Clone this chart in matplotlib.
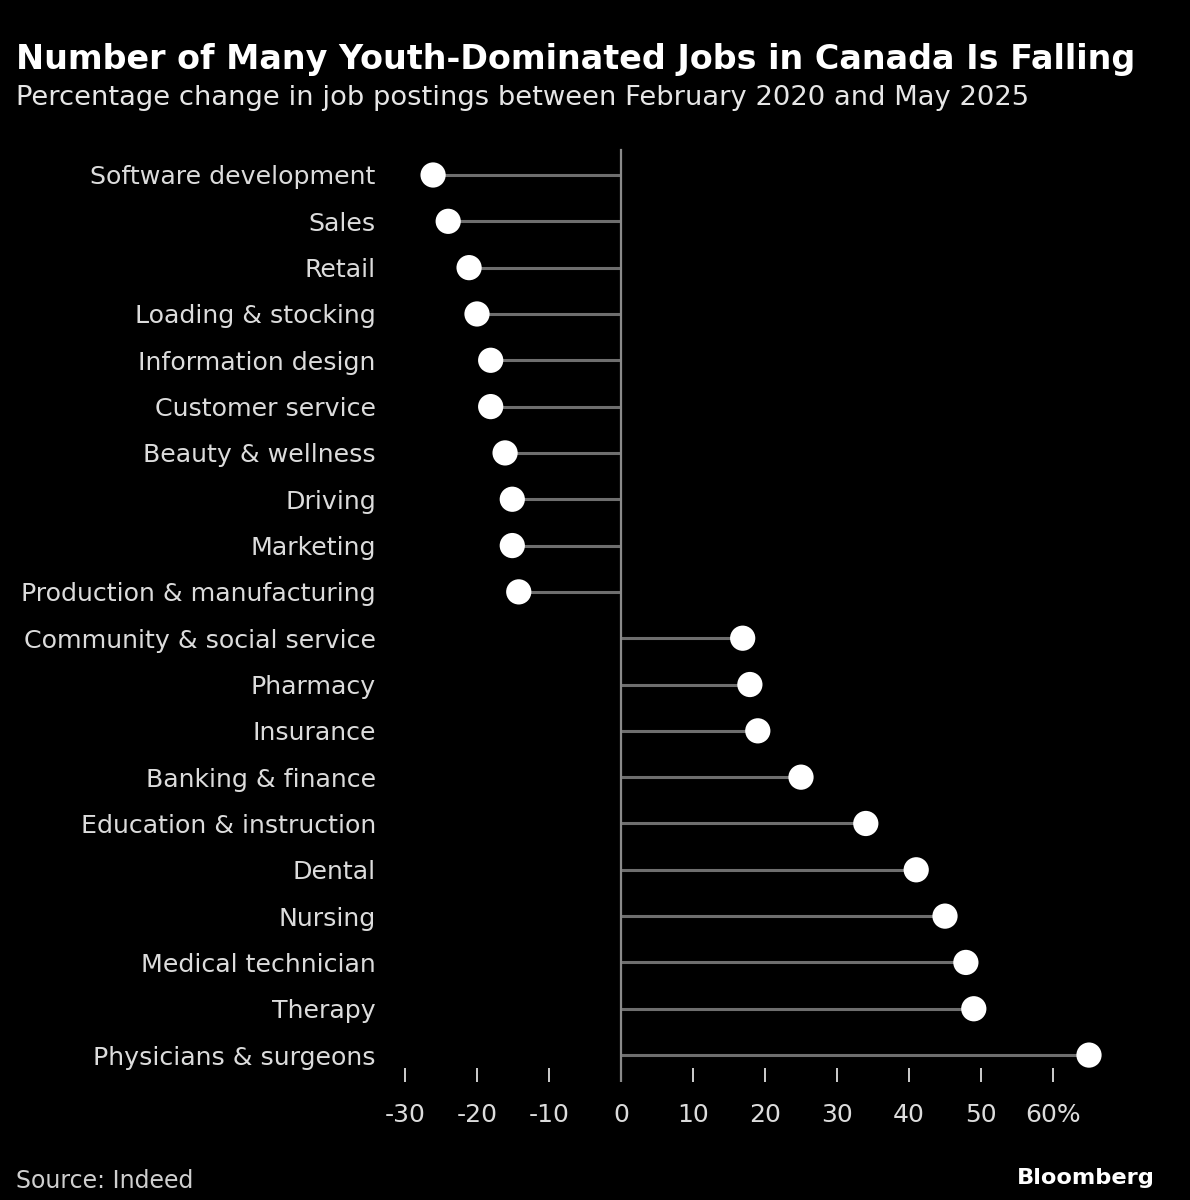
import matplotlib
matplotlib.use("Agg")
import matplotlib.pyplot as plt

# data
jobs = ["Software development", "Sales", "Retail", "Loading & stocking",
        "Information design", "Customer service", "Beauty & wellness",
        "Driving", "Marketing", "Production & manufacturing",
        "Community & social service", "Pharmacy", "Insurance",
        "Banking & finance", "Education & instruction", "Dental",
        "Nursing", "Medical technician", "Therapy", "Physicians & surgeons"]
change = [-26.1, -24.0, -21.1, -20.0, -18.1, -18.1, -16.1, -15.1, -15.1, -14.2,
          16.9, 17.9, 19.0, 25.0, 34.0, 41.0, 45.0, 47.9, 49.0, 65.0]
xticks = [-30, -20, -10, 0, 10, 20, 30, 40, 50, 60]
xlabels = ["-30", "-20", "-10", "0", "10", "20", "30", "40", "50", "60%"]

W, H = 1190, 1200
plt.rcParams['font.family'] = ['DejaVu Sans']
fig = plt.figure(figsize=(W / 100, H / 100), dpi=100)
fig.patch.set_facecolor("black")

# axes placed in pixel terms
left, right, top, bottom = 380, 1110, 140, 1082
ax = fig.add_axes([left / W, 1 - bottom / H, (right - left) / W, (bottom - top) / H])
ax.set_facecolor("black")

px_per_unit = 7.2
zero_px = 621
ax.set_xlim((left - zero_px) / px_per_unit, (right - zero_px) / px_per_unit)
row0, step = 175, 46.32
ax.set_ylim((bottom - row0) / step, (top - row0) / step)

rows = list(range(len(jobs)))
ax.hlines(rows, 0, change, color="#6e6e6e", lw=2.2, zorder=1)
ax.scatter(change, rows, s=330, color="white", zorder=3, edgecolors="none")
ax.axvline(0, ymin=0, ymax=(bottom - 150) / (bottom - top), color="#8a8a8a", lw=1.6, zorder=2)

for s in ax.spines.values():
    s.set_visible(False)

ax.set_yticks(rows)
ax.set_yticklabels(jobs, color="#dcdcdc", fontsize=18.2)
ax.tick_params(axis="y", length=0, pad=3)

ax.set_xticks(xticks)
ax.set_xticklabels(xlabels, color="#dcdcdc", fontsize=18)
ax.tick_params(axis="x", direction="in", length=10, width=1.4, color="#cfcfcf", pad=15)

fig.text(16 / W, 1 - 60 / H, "Number of Many Youth-Dominated Jobs in Canada Is Falling",
         color="white", fontsize=24, fontweight="bold", va="center", ha="left")
fig.text(16 / W, 1 - 98 / H, "Percentage change in job postings between February 2020 and May 2025",
         color="#e6e6e6", fontsize=19.7, va="center", ha="left")
fig.text(16 / W, 1 - 1181 / H, "Source: Indeed", color="#cfcfcf", fontsize=17, va="center", ha="left")
fig.text(1155 / W, 1 - 1178 / H, "Bloomberg", color="white", fontsize=16.2, fontweight="bold",
         va="center", ha="right")

fig.savefig("out.png", dpi=100, facecolor="black")
